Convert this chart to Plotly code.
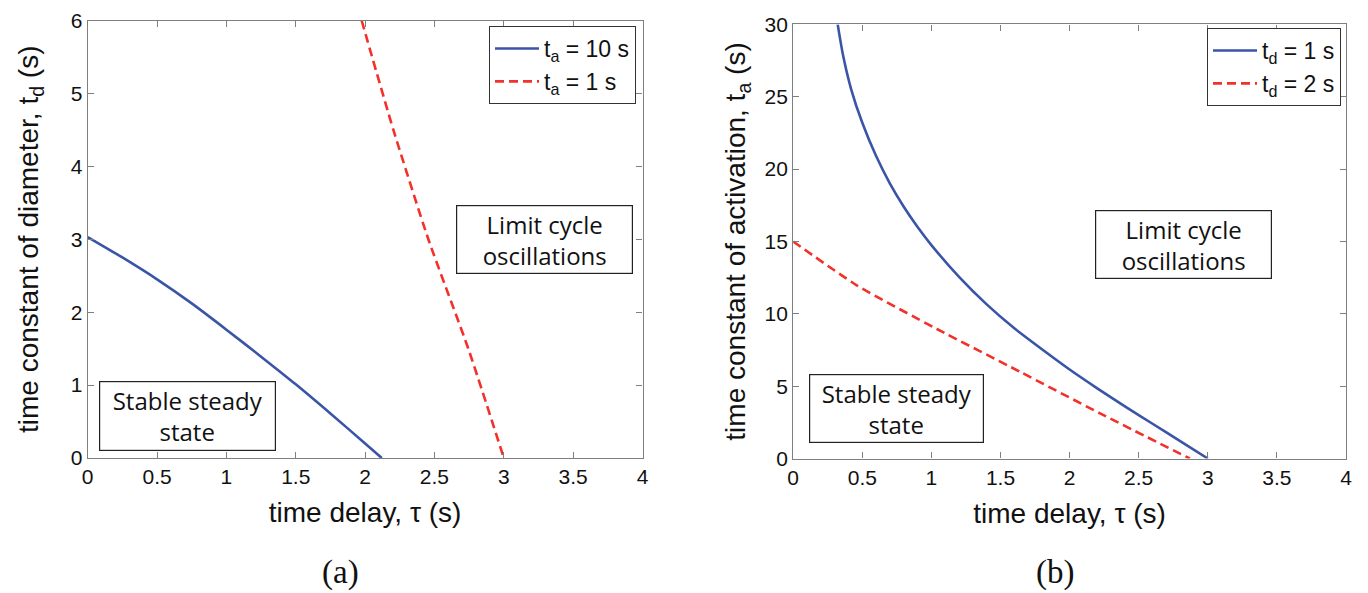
import plotly.graph_objects as go

W, H = 1368, 593

# ---- Data ----
# Panel (a): time delay tau vs time constant of diameter t_d
a_blue_tau = [0, 0.25, 0.5, 0.75, 1.0, 1.25, 1.5, 1.75, 2.0, 2.12]
a_blue_td = [3.03, 2.75, 2.45, 2.12, 1.76, 1.39, 1.01, 0.61, 0.20, 0]
a_red_tau = [1.975, 2.204, 2.456, 2.744, 3.0]
a_red_td = [6, 4.5, 3, 1.5, 0]

# Panel (b): time delay tau vs time constant of activation t_a
b_blue_tau = [0.322, 0.36, 0.42, 0.5, 0.6, 0.7, 0.8, 0.9, 1.0, 1.2, 1.4, 1.6, 1.8, 2.0, 2.2, 2.4, 2.6, 2.8, 3.0]
b_blue_ta = [30, 27.9, 25.5, 23.2, 20.9, 19.0, 17.4, 16.0, 14.75, 12.55, 10.65, 9.0, 7.55, 6.15, 4.85, 3.6, 2.4, 1.2, 0]
b_red_tau = [0, 0.46, 1.04, 1.64, 2.22, 2.87]
b_red_ta = [15, 11.97, 8.95, 6.0, 3.12, 0]

x_ticks = [0, 0.5, 1, 1.5, 2, 2.5, 3, 3.5, 4]
x_ticklabels = ["0", "0.5", "1", "1.5", "2", "2.5", "3", "3.5", "4"]
a_y_ticks = [0, 1, 2, 3, 4, 5, 6]
b_y_ticks = [0, 5, 10, 15, 20, 25, 30]

BLUE = "#3A55A7"
RED = "#F2312B"
AXIS_COLOR = "#7f7f7f"
TICK_FONT = dict(family="Liberation Sans Narrow, Liberation Sans, Arial", size=21, color="#111")
TITLE_FONT = dict(family="Liberation Sans, Arial", size=28, color="#111")
BOX_FONT = dict(family="Open Sans, Noto Sans, sans-serif", size=24, color="#111")
LEG_FONT = dict(family="Liberation Sans Narrow, Liberation Sans, Arial", size=23, color="#111")


def px_x(p):
    return p / W


def px_y(p):
    return 1 - p / H


fig = go.Figure()

fig.add_trace(go.Scatter(x=a_blue_tau, y=a_blue_td, mode="lines",
                         line=dict(color=BLUE, width=2.6, shape="spline", smoothing=0.6),
                         name="t<sub>a</sub> = 10 s", xaxis="x", yaxis="y", legend="legend"))
fig.add_trace(go.Scatter(x=a_red_tau, y=a_red_td, mode="lines",
                         line=dict(color=RED, width=2.6, dash="9px,5px", shape="spline", smoothing=0.6),
                         name="t<sub>a</sub> = 1 s", xaxis="x", yaxis="y", legend="legend"))
fig.add_trace(go.Scatter(x=b_blue_tau, y=b_blue_ta, mode="lines",
                         line=dict(color=BLUE, width=2.6, shape="spline", smoothing=0.6),
                         name="t<sub>d</sub> = 1 s", xaxis="x2", yaxis="y2", legend="legend2"))
fig.add_trace(go.Scatter(x=b_red_tau, y=b_red_ta, mode="lines",
                         line=dict(color=RED, width=2.6, dash="9px,5px", shape="spline", smoothing=0.6),
                         name="t<sub>d</sub> = 2 s", xaxis="x2", yaxis="y2", legend="legend2"))

common_axis = dict(showgrid=False, zeroline=False, showline=True, linecolor=AXIS_COLOR, linewidth=1.2,
                   mirror="ticks", ticks="inside", ticklen=6, tickcolor=AXIS_COLOR, tickwidth=1,
                   tickfont=TICK_FONT, title_font=TITLE_FONT, automargin=False)

fig.update_layout(
    width=W, height=H,
    margin=dict(l=0, r=0, t=0, b=0),
    paper_bgcolor="white", plot_bgcolor="white",
    xaxis=dict(domain=[px_x(87.7), px_x(642.5)], range=[0, 4], tickvals=x_ticks, ticktext=x_ticklabels,
               anchor="y", title=dict(text="time delay, τ (s)", standoff=15), **common_axis),
    yaxis=dict(domain=[px_y(458), px_y(20.5)], range=[0, 6], tickvals=a_y_ticks, anchor="x",
               title=dict(text="time constant of diameter, t<sub>d</sub> (s)", standoff=23), **common_axis),
    xaxis2=dict(domain=[px_x(793.2), px_x(1346)], range=[0, 4], tickvals=x_ticks, ticktext=x_ticklabels,
                anchor="y2", title=dict(text="time delay, τ (s)", standoff=15), **common_axis),
    yaxis2=dict(domain=[px_y(458.5), px_y(24.4)], range=[0, 30], tickvals=b_y_ticks, anchor="x2",
                title=dict(text="time constant of activation, t<sub>a</sub> (s)", standoff=10), **common_axis),
    legend=dict(x=px_x(636), y=px_y(26), xanchor="right", yanchor="top", bgcolor="white",
                bordercolor="#333", borderwidth=1, font=LEG_FONT, itemwidth=44, tracegroupgap=4),
    legend2=dict(x=px_x(1341), y=px_y(28), xanchor="right", yanchor="top", bgcolor="white",
                 bordercolor="#333", borderwidth=1, font=LEG_FONT, itemwidth=44, tracegroupgap=4),
    showlegend=True,
)

boxes = [
    ("Limit cycle<br>oscillations", 544, 239.5, 175, 67),
    ("Stable steady<br>state", 187, 416, 175, 68),
    ("Limit cycle<br>oscillations", 1183, 244, 175, 67),
    ("Stable steady<br>state", 896, 408, 173, 67),
]
for text, cx, cy, w, h in boxes:
    fig.add_annotation(text=text, x=px_x(cx), y=px_y(cy), xref="paper", yref="paper", showarrow=False,
                       xanchor="center", yanchor="middle", width=w, height=h, align="center",
                       bordercolor="#222", borderwidth=1.2, borderpad=0, bgcolor="white", font=BOX_FONT)

for text, cx in [("(a)", 340), ("(b)", 1055)]:
    fig.add_annotation(text=text, x=px_x(cx), y=px_y(572), xref="paper", yref="paper", showarrow=False,
                       xanchor="center", yanchor="middle",
                       font=dict(family="Liberation Serif, Times New Roman, serif", size=33, color="#111"))

fig.write_html("out.html", config={"displayModeBar": False},
               post_script="document.body.style.margin='0';document.body.style.overflow='hidden';")
